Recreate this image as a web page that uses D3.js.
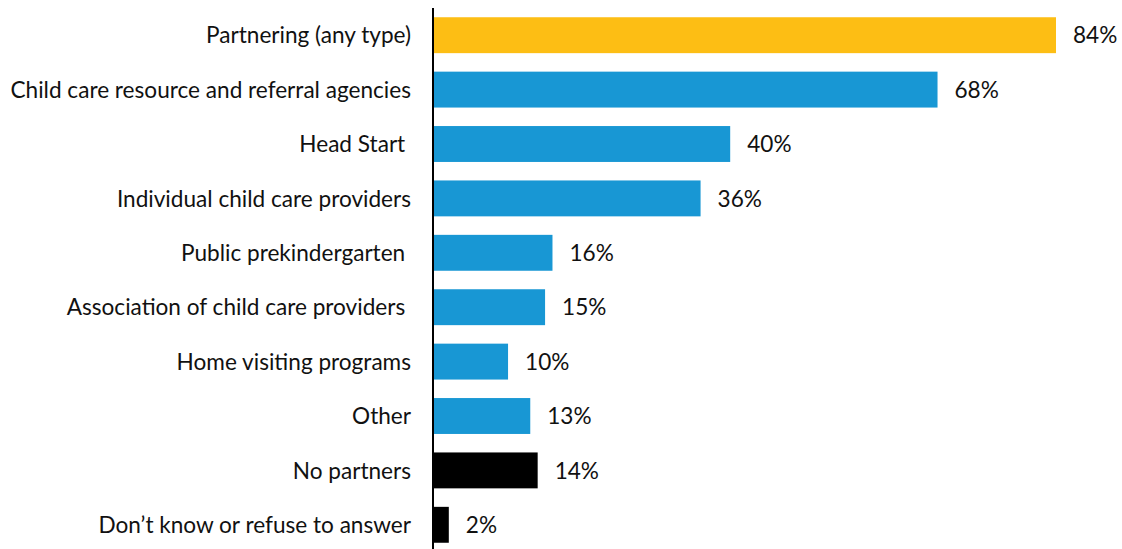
<!DOCTYPE html>
<html>
<head>
<meta charset="utf-8">
<script src="https://cdn.jsdelivr.net/npm/d3@7"></script>
<style>
  html, body { margin: 0; padding: 0; background: #fff; }
  svg text { font-family: Lato, "Open Sans", sans-serif; white-space: pre; }
</style>
</head>
<body>
<svg id="chart" width="1122" height="549"></svg>
<script>
// Partner types and share of respondents (%)
const categories = [
  "Partnering (any type)",
  "Child care resource and referral agencies",
  "Head Start ",
  "Individual child care providers",
  "Public prekindergarten ",
  "Association of child care providers ",
  "Home visiting programs",
  "Other",
  "No partners",
  "Don\u2019t know or refuse to answer"
];
const values = [84, 68, 40, 36, 16, 15, 10, 13, 14, 2];
const groups = ["total", "type", "type", "type", "type", "type", "type", "type", "none", "none"];

const colorFor = { total: "#FDBE14", type: "#1897D4", none: "#000000" };

const svg = d3.select("#chart");
const x0 = 434;
const fontSize = 22.6;

const x = d3.scaleLinear().domain([0, 84]).range([x0, 1056]);
const y = d3.scaleBand()
  .domain(categories)
  .range([8, 552])
  .paddingInner(0.34)
  .paddingOuter(0.17);

const rows = categories.map((c, i) => ({ c, v: values[i], g: groups[i] }));

svg.selectAll("rect.bar")
  .data(rows)
  .join("rect")
  .attr("class", "bar")
  .attr("x", x(0))
  .attr("y", d => y(d.c))
  .attr("width", d => x(d.v) - x(0))
  .attr("height", y.bandwidth())
  .attr("fill", d => colorFor[d.g]);

// Value labels
svg.selectAll("text.val")
  .data(rows)
  .join("text")
  .attr("class", "val")
  .attr("x", d => x(d.v) + 17)
  .attr("y", d => y(d.c) + y.bandwidth() / 2)
  .attr("dy", "0.36em")
  .attr("font-size", fontSize)
  .attr("fill", "#111")
  .text(d => d.v + "%");

// Category axis
const axis = svg.append("g")
  .attr("transform", `translate(${x0 - 1},0)`)
  .call(d3.axisLeft(y).tickSize(0).tickPadding(22));
axis.select(".domain").remove();
axis.selectAll("text")
  .attr("font-size", fontSize)
  .attr("font-family", "Lato, 'Open Sans', sans-serif")
  .attr("fill", "#111")
  .attr("dy", "0.36em");

svg.append("line")
  .attr("x1", x0 - 1).attr("x2", x0 - 1)
  .attr("y1", 8).attr("y2", 549)
  .attr("stroke", "#000")
  .attr("stroke-width", 2);
</script>
</body>
</html>
